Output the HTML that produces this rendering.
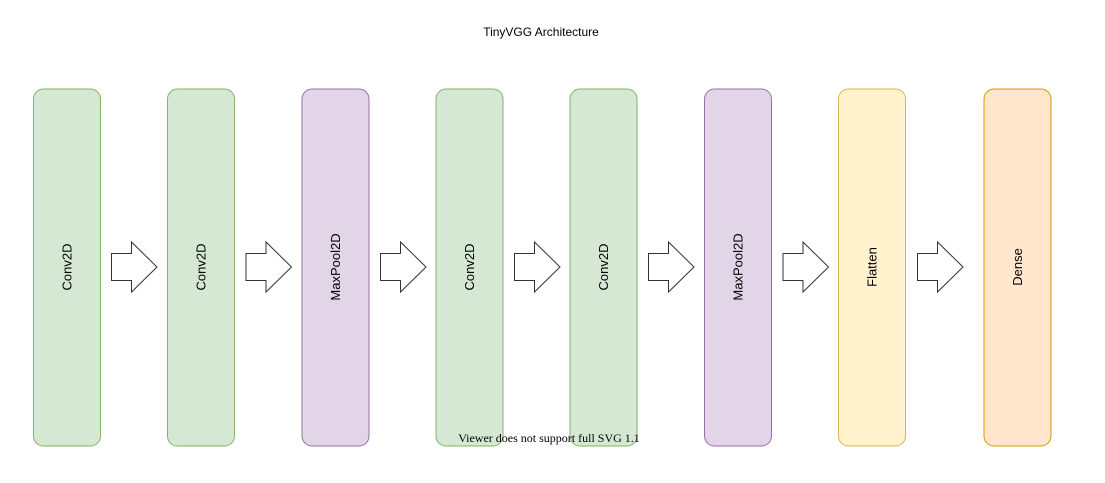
<!DOCTYPE html>
<html><head><meta charset="utf-8"><style>html,body{margin:0;padding:0;background:#fff;}svg{display:block;}</style></head>
<body>
<svg width="1105" height="483" viewBox="0 0 1105 483" xmlns="http://www.w3.org/2000/svg" font-family="'Liberation Sans', Arial, sans-serif">
<rect width="1105" height="483" fill="#fff"/>
<text x="541" y="36" font-size="12" text-anchor="middle" fill="#000">TinyVGG Architecture</text>
<g stroke-width="1">
<rect x="33.5" y="89" width="67" height="357" rx="10" fill="#d5e8d4" stroke="#82b366"/>
<rect x="167.5" y="89" width="67" height="357" rx="10" fill="#d5e8d4" stroke="#82b366"/>
<rect x="302" y="89" width="67" height="357" rx="10" fill="#e1d5e7" stroke="#9673a6"/>
<rect x="436" y="89" width="67" height="357" rx="10" fill="#d5e8d4" stroke="#82b366"/>
<rect x="570" y="89" width="67" height="357" rx="10" fill="#d5e8d4" stroke="#82b366"/>
<rect x="704.5" y="89" width="67" height="357" rx="10" fill="#e1d5e7" stroke="#9673a6"/>
<rect x="838.5" y="89" width="67" height="357" rx="10" fill="#fff2cc" stroke="#d6b656"/>
<rect x="984" y="89" width="67" height="357" rx="10" fill="#ffe6cc" stroke="#d79b00"/>
</g>
<g fill="#fff" stroke="#333" stroke-width="1">
<path d="M111.5 253.5 H131.5 V242 L157 267 L131.5 292 V280.5 H111.5 Z"/>
<path d="M246 253.5 H266 V242 L291.5 267 L266 292 V280.5 H246 Z"/>
<path d="M380.5 253.5 H400.5 V242 L426 267 L400.5 292 V280.5 H380.5 Z"/>
<path d="M514.5 253.5 H534.5 V242 L560 267 L534.5 292 V280.5 H514.5 Z"/>
<path d="M648.5 253.5 H668.5 V242 L694 267 L668.5 292 V280.5 H648.5 Z"/>
<path d="M783 253.5 H803 V242 L828.5 267 L803 292 V280.5 H783 Z"/>
<path d="M917.5 253.5 H937.5 V242 L963 267 L937.5 292 V280.5 H917.5 Z"/>
</g>
<g font-size="13" fill="#000" text-anchor="middle">
<text transform="translate(71.5,267) rotate(-90)">Conv2D</text>
<text transform="translate(205.5,267) rotate(-90)">Conv2D</text>
<text transform="translate(340,267) rotate(-90)">MaxPool2D</text>
<text transform="translate(474,267) rotate(-90)">Conv2D</text>
<text transform="translate(608,267) rotate(-90)">Conv2D</text>
<text transform="translate(742.5,267) rotate(-90)">MaxPool2D</text>
<text transform="translate(876.5,267) rotate(-90)">Flatten</text>
<text transform="translate(1022,267) rotate(-90)">Dense</text>
</g>
<text x="549" y="442" font-size="12" text-anchor="middle" font-family="'Liberation Serif', serif" fill="#000">Viewer does not support full SVG 1.1</text>
</svg>
</body></html>
